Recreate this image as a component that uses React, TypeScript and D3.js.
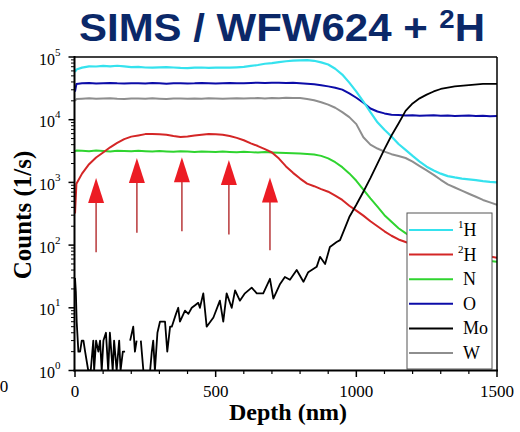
import React from "react";
import * as d3 from "d3";

// ---- data ----
const depth = [0, 5, 25, 50, 75, 100, 125, 150, 175, 200, 225, 250, 275, 300, 325, 350, 375, 400, 425, 450, 475, 500, 525, 550, 575, 600, 625, 650, 675, 700, 725, 750, 775, 800, 825, 850, 875, 900, 925, 950, 975, 1000, 1025, 1050, 1075, 1100, 1125, 1150, 1175, 1200, 1225, 1250, 1275, 1300, 1325, 1350, 1375, 1400, 1425, 1450, 1475, 1500];

const h1 = [57500, 63000, 67600, 70800, 70500, 72000, 71000, 72500, 70800, 69000, 69500, 68000, 67500, 68200, 69000, 68000, 67000, 66500, 67500, 68000, 67200, 67800, 68000, 67600, 68500, 69500, 72000, 74500, 78000, 80000, 83000, 85500, 87500, 88500, 89000, 87000, 82000, 76000, 65000, 52500, 39000, 28000, 19500, 13200, 9100, 6900, 5400, 4100, 3300, 2650, 2150, 1780, 1550, 1380, 1260, 1200, 1150, 1120, 1090, 1050, 1020, 1000];

const h2 = [320, 950, 1380, 1950, 2500, 3000, 3630, 4260, 4900, 5370, 5620, 5890, 5900, 5850, 5750, 5500, 5300, 5400, 5600, 5750, 5900, 5880, 5750, 5500, 5130, 4700, 4200, 3800, 3400, 3000, 2400, 1800, 1420, 1150, 955, 870, 780, 710, 615, 525, 425, 355, 295, 240, 200, 166, 141, 123, 112, 102, 98, 93, 89, 85, 83, 79, 76, 72, 71, 68, 66, 63];

const nitrogen = [3100, 3240, 3200, 3150, 3220, 3180, 3120, 3200, 3170, 3130, 3190, 3150, 3100, 3160, 3120, 3080, 3140, 3100, 3060, 3120, 3090, 3050, 3100, 3060, 3030, 3080, 3040, 3000, 3050, 3010, 2980, 2950, 2920, 2880, 2850, 2780, 2650, 2420, 2100, 1750, 1390, 1060, 770, 555, 410, 300, 235, 186, 155, 132, 115, 102, 93, 85, 79, 74, 69, 65, 62, 59, 56, 54];

const oxygen = [28000, 37000, 38000, 38500, 37800, 38200, 38600, 38000, 37700, 38300, 38100, 37900, 38400, 38000, 37600, 38200, 38300, 37900, 38000, 38500, 38100, 37800, 38200, 38400, 38000, 38300, 38600, 38900, 38500, 38800, 39000, 38600, 38700, 38300, 37600, 36700, 35500, 34000, 32400, 30200, 26300, 22400, 18600, 15100, 13500, 12600, 12000, 11900, 11700, 11800, 11600, 11700, 11800, 11600, 11700, 11500, 11600, 11700, 11500, 11600, 11400, 11500];

const tungsten = [20000, 21400, 21600, 21900, 21500, 21700, 22000, 21600, 21400, 21800, 21700, 21500, 21900, 21600, 21400, 21800, 21700, 21500, 21800, 21600, 21900, 21700, 21500, 21800, 22000, 21700, 21900, 22100, 21800, 22200, 22000, 22300, 22100, 22100, 21400, 20400, 19000, 17400, 15500, 13200, 11000, 8500, 5250, 4000, 3470, 3100, 2820, 2630, 2450, 2140, 1820, 1550, 1320, 1100, 930, 830, 740, 660, 590, 525, 480, 440];

// Mo has its own (finer) depth sampling; 0 = no counts (gap on log axis)
const moDepth = [0, 3, 6, 12, 18, 24, 30, 36, 47, 56, 65, 68, 75, 83, 89, 95, 101, 110, 118, 124, 134, 139, 148, 157, 162, 170, 178, 186, 196, 207, 213, 219, 226, 234, 243, 250, 258, 267, 273, 278, 284, 293, 302, 308, 320, 328, 338, 344, 359, 367, 373, 391, 403, 415, 427, 438, 444, 456, 468, 492, 515, 527, 539, 557, 569, 586, 604, 628, 646, 669, 693, 705, 729, 746, 764, 788, 812, 829, 859, 871, 889, 906, 930, 942, 960, 975, 1000, 1025, 1050, 1075, 1100, 1125, 1150, 1175, 1200, 1225, 1250, 1275, 1300, 1350, 1400, 1450, 1500];
const moCounts = [30, 18, 6, 2, 2, 3, 3, 2, 1, 1, 3, 1, 3, 2, 3, 1, 3, 4, 1, 4, 1, 3, 1, 3, 1, 2, 2, 0, 3, 5, 2, 3, 0, 3, 1, 0, 0, 1, 2, 3, 1, 4, 6, 6, 6, 2, 5, 5, 8, 10, 6, 9, 8, 10, 11, 12, 10, 17, 5, 7, 13, 6, 17, 10, 19, 13, 17, 21, 17, 17, 29, 14, 24, 31, 28, 40, 26, 37, 45, 65, 50, 93, 112, 120, 190, 280, 440, 710, 1170, 2000, 3400, 5600, 8700, 13800, 18200, 21900, 25100, 28200, 30900, 33900, 35500, 37200, 37200];

// annotation arrows (depth, tip counts, tail counts)
const arrowDepth = [75, 220, 380, 547, 693];
const arrowTip = [1175, 2450, 2510, 2270, 1200];
const arrowTail = [77, 158, 166, 148, 83];

const xTicks = [0, 500, 1000, 1500];
const yExponents = [0, 1, 2, 3, 4, 5];

const seriesNames = ["1H", "2H", "N", "O", "Mo", "W"];
const seriesColors = ["#35e2ee", "#d42626", "#2fd42f", "#0c0ca8", "#000000", "#8e8e8e"];

export default function App() {
  const x = d3.scaleLinear().domain([0, 1500]).range([75, 497]);
  const y = d3.scaleLog().domain([1, 1e5]).range([370.5, 57]);

  const mk = (xs: number[], vs: number[]) =>
    d3
      .line<number>()
      .defined((_, i) => vs[i] > 0)
      .x((_, i) => x(xs[i]))
      .y((_, i) => y(vs[i]))(vs.map((v) => v)) || "";

  const curves = [
    { d: mk(depth, tungsten), c: seriesColors[5], w: 2 },
    { d: mk(depth, oxygen), c: seriesColors[3], w: 2 },
    { d: mk(depth, h1), c: seriesColors[0], w: 2.2 },
    { d: mk(depth, nitrogen), c: seriesColors[2], w: 2 },
    { d: mk(depth, h2), c: seriesColors[1], w: 2 },
    { d: mk(moDepth, moCounts), c: seriesColors[4], w: 1.8 },
  ];

  const minorX = d3.range(0, 1501, 100).filter((v) => v % 500 !== 0);
  const minorY: number[] = [];
  for (let e = 0; e < 5; e++) for (let k = 2; k <= 9; k++) minorY.push(k * Math.pow(10, e));

  const serif = "'Liberation Serif', 'Times New Roman', serif";

  return (
    <svg
      width={520}
      height={432}
      style={{ position: "absolute", left: 0, top: 0, background: "#fff" }}
    >
      <defs>
        <clipPath id="plot">
          <rect x={75} y={57} width={422} height={314} />
        </clipPath>
      </defs>
      {/* title */}
      <text
        x={79}
        y={41}
        fontFamily="'Liberation Sans', Arial, sans-serif"
        fontWeight="bold"
        fontSize={38}
        fill="#0b2868"
        textLength={406}
        lengthAdjust="spacingAndGlyphs"
      >
        SIMS / WFW624 +{" "}
        <tspan fontSize={25} dy={-13}>2</tspan>
        <tspan dy={13}>H</tspan>
      </text>

      {/* curves */}
      <g clipPath="url(#plot)" fill="none" strokeLinejoin="round">
        {curves.map((c, i) => (
          <path key={i} d={c.d} stroke={c.c} strokeWidth={c.w} />
        ))}
      </g>

      {/* arrows */}
      {arrowDepth.map((dp, i) => {
        const ax = x(dp);
        const ty = y(arrowTip[i]);
        const by = y(arrowTail[i]);
        return (
          <g key={i}>
            <line x1={ax} x2={ax} y1={ty + 22} y2={by} stroke="#b8383a" strokeWidth={1.5} />
            <polygon
              points={`${ax},${ty} ${ax - 8},${ty + 25} ${ax + 8},${ty + 25}`}
              fill="#ec1c24"
            />
          </g>
        );
      })}

      {/* legend */}
      <rect x={407} y={213} width={85} height={156} fill="#fff" stroke="#555" strokeWidth={1} />
      {seriesNames.map((n, i) => {
        const ly = 230 + i * 24.6;
        return (
          <g key={n}>
            <line x1={409} x2={453} y1={ly} y2={ly} stroke={seriesColors[i]} strokeWidth={2} />
            {n === "1H" || n === "2H" ? (
              <text x={458} y={ly + 6} fontFamily={serif} fontSize={18} fill="#000">
                <tspan fontSize={11} dy={-8}>{n[0]}</tspan>
                <tspan dy={8}>H</tspan>
              </text>
            ) : (
              <text x={463} y={ly + 6} fontFamily={serif} fontSize={18} fill="#000">
                {n}
              </text>
            )}
          </g>
        );
      })}

      {/* frame */}
      <line x1={74.5} x2={497} y1={57} y2={57} stroke="#000" strokeWidth={1.5} />
      <line x1={497} x2={497} y1={57} y2={371} stroke="#000" strokeWidth={1.5} />
      <line x1={74.5} x2={74.5} y1={56} y2={371.5} stroke="#000" strokeWidth={2} />
      <line x1={73.5} x2={498} y1={370.5} y2={370.5} stroke="#000" strokeWidth={2} />

      {/* x ticks */}
      {xTicks.map((t) => (
        <g key={t}>
          <line x1={x(t)} x2={x(t)} y1={370.5} y2={377} stroke="#000" strokeWidth={1.5} />
          <text x={x(t)} y={397} textAnchor="middle" fontFamily={serif} fontSize={17}>
            {t}
          </text>
        </g>
      ))}
      {minorX.map((t) => (
        <line key={t} x1={x(t)} x2={x(t)} y1={370.5} y2={374} stroke="#000" strokeWidth={1.2} />
      ))}

      {/* y ticks */}
      {yExponents.map((e) => {
        const ty = y(Math.pow(10, e));
        return (
          <g key={e}>
            <line x1={68.5} x2={74.5} y1={ty} y2={ty} stroke="#000" strokeWidth={1.5} />
            <text x={39} y={ty + 7.5} fontFamily={serif} fontSize={16}>
              10
              <tspan fontSize={11} dy={-9}>{e}</tspan>
            </text>
          </g>
        );
      })}
      {minorY.map((v) => (
        <line key={v} x1={71} x2={74.5} y1={y(v)} y2={y(v)} stroke="#000" strokeWidth={1} />
      ))}

      {/* axis titles */}
      <text
        x={288}
        y={420}
        textAnchor="middle"
        fontFamily={serif}
        fontWeight="bold"
        fontSize={24}
      >
        Depth (nm)
      </text>
      <text
        transform="translate(31,215) rotate(-90)"
        textAnchor="middle"
        fontFamily={serif}
        fontWeight="bold"
        fontSize={25}
      >
        Counts (1/s)
      </text>

      {/* stray label at the left edge of the reference */}
      <text x={4} y={392} textAnchor="middle" fontFamily={serif} fontSize={17}>
        0
      </text>
    </svg>
  );
}
